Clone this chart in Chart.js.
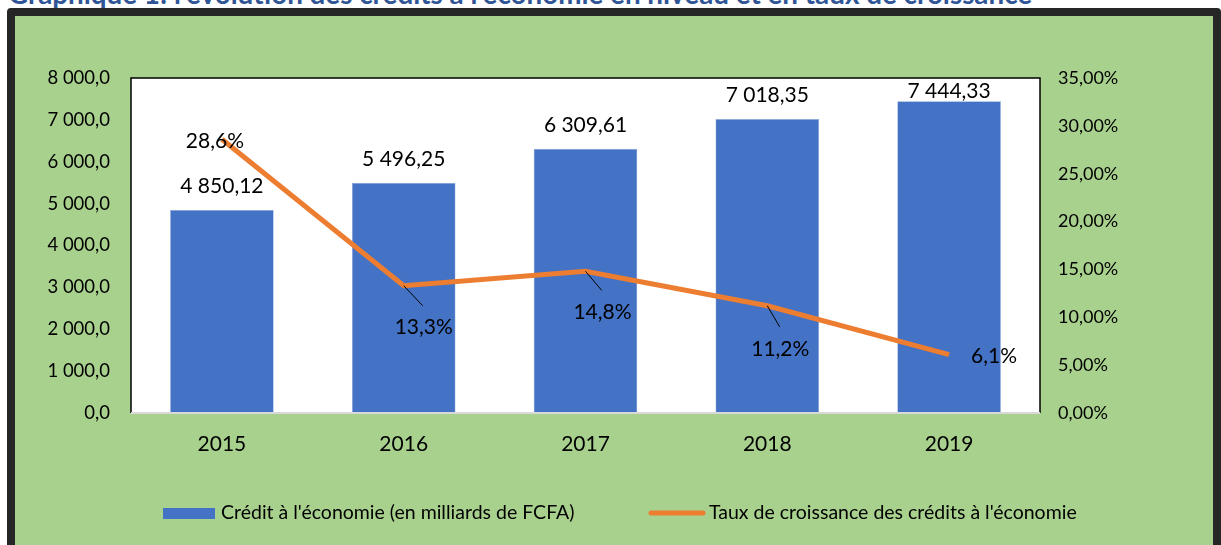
<!DOCTYPE html>
<html>
<head>
<meta charset="utf-8">
<script src="https://cdn.jsdelivr.net/npm/chart.js@4.4.1/dist/chart.umd.min.js"></script>
<style>
  html, body { margin: 0; padding: 0; background: #fff; overflow: hidden; }
  body { width: 1221px; height: 545px; position: relative; font-family: Lato, sans-serif; }
  #title { position: absolute; left: 8px; top: -22px; font: bold 27.8px Lato, sans-serif; line-height: 32px; color: #2f5597; white-space: nowrap; }
  #frame { position: absolute; left: 7px; top: 8px; width: 1198px; height: 560px; border: 8px solid #262626; border-radius: 4px; background: #a9d18e; }
  #wrap { position: absolute; left: 0; top: 0; width: 1198px; height: 529px; }
</style>
</head>
<body>
<div id="title">Graphique 1: l'évolution des crédits à l'économie en niveau et en taux de croissance</div>
<div id="frame"><div id="wrap"><canvas id="chart"></canvas></div></div>
<script>
const years = ['2015', '2016', '2017', '2018', '2019']
const credits = [4850.12, 5496.25, 6309.61, 7018.35, 7444.33]
const growth = [28.6, 13.3, 14.8, 11.2, 6.1]
const creditLabel = "Crédit à l'économie (en milliards de FCFA)"
const growthLabel = "Taux de croissance des crédits à l'économie"

const BLUE = '#4472c4'
const ORANGE = '#ed7d31'
const FONT = 'Lato, sans-serif'

// offsets of the growth labels from their points (dx, dy, leader line?)
const growthLabelPos = [
    { dx: -7, dy: 2, leader: false },
    { dx: 20, dy: 42, leader: true },
    { dx: 17, dy: 41, leader: true },
    { dx: 13, dy: 43, leader: true },
    { dx: 45, dy: 2, leader: false },
]

const fmtCredit = v => {
    const [i, d] = v.toFixed(2).split('.')
    return i.replace(/\B(?=(\d{3})+(?!\d))/g, ' ') + ',' + d
}
const fmtAxis = v => {
    const [i, d] = v.toFixed(1).split('.')
    return i.replace(/\B(?=(\d{3})+(?!\d))/g, ' ') + ',' + d
}

const plotBox = {
    id: 'plotBox',
    beforeDraw(chart) {
        const { ctx, chartArea: a } = chart
        ctx.save()
        ctx.fillStyle = '#fff'
        ctx.fillRect(a.left, a.top, a.right - a.left, a.bottom - a.top)
        ctx.strokeStyle = '#000'
        ctx.lineWidth = 1.5
        ctx.beginPath()
        ctx.moveTo(a.left, a.bottom)
        ctx.lineTo(a.left, a.top)
        ctx.lineTo(a.right, a.top)
        ctx.lineTo(a.right, a.bottom)
        ctx.stroke()
        ctx.restore()
    },
    afterDatasetsDraw(chart) {
        const { ctx, chartArea: a } = chart
        ctx.save()
        ctx.strokeStyle = '#d9d9d9'
        ctx.lineWidth = 2
        ctx.beginPath()
        ctx.moveTo(a.left, a.bottom)
        ctx.lineTo(a.right, a.bottom)
        ctx.stroke()
        ctx.restore()
    }
}

const dataLabels = {
    id: 'dataLabels',
    afterDatasetsDraw(chart) {
        const { ctx, chartArea: a } = chart
        ctx.save()
        ctx.font = '21px ' + FONT
        ctx.fillStyle = '#000'
        ctx.textAlign = 'center'
        ctx.textBaseline = 'middle'
        chart.getDatasetMeta(0).data.forEach((bar, i) => {
            const y = Math.max(bar.y - 24, a.top + 13)
            ctx.fillText(fmtCredit(credits[i]), bar.x, y)
        })
        chart.getDatasetMeta(1).data.forEach((pt, i) => {
            const p = growthLabelPos[i]
            const lx = pt.x + p.dx, ly = pt.y + p.dy
            if (p.leader) {
                ctx.strokeStyle = '#000'
                ctx.lineWidth = 1
                ctx.beginPath()
                ctx.moveTo(pt.x, pt.y)
                ctx.lineTo(pt.x + p.dx * 0.95, pt.y + p.dy - 22)
                ctx.stroke()
            }
            ctx.fillText(growth[i].toFixed(1).replace('.', ',') + '%', lx, ly)
        })
        ctx.restore()
    }
}

const legendBox = {
    id: 'legendBox',
    afterDraw(chart) {
        const { ctx } = chart
        const y = 497
        ctx.save()
        ctx.font = '19.5px ' + FONT
        ctx.textBaseline = 'middle'
        ctx.fillStyle = BLUE
        ctx.fillRect(148, y - 5, 52, 11)
        ctx.fillStyle = '#000'
        ctx.fillText(creditLabel, 206, y)
        ctx.strokeStyle = ORANGE
        ctx.lineWidth = 5
        ctx.lineCap = 'round'
        ctx.beginPath()
        ctx.moveTo(636, y)
        ctx.lineTo(688, y)
        ctx.stroke()
        ctx.fillText(growthLabel, 694, y)
        ctx.restore()
    }
}

new Chart(document.getElementById('chart'), {
    data: {
        labels: years,
        datasets: [
            {
                type: 'bar',
                label: creditLabel,
                data: credits,
                backgroundColor: BLUE,
                borderColor: '#8faadc',
                borderWidth: 0.6,
                categoryPercentage: 1,
                barPercentage: 0.57,
                yAxisID: 'y',
                order: 2,
            },
            {
                type: 'line',
                label: growthLabel,
                data: growth,
                borderColor: ORANGE,
                backgroundColor: ORANGE,
                borderWidth: 5,
                pointRadius: 0,
                tension: 0,
                yAxisID: 'y1',
                order: 1,
            },
        ],
    },
    options: {
        responsive: true,
        maintainAspectRatio: false,
        animation: false,
        layout: { padding: { top: 62, right: 0, left: 0, bottom: 0 } },
        plugins: {
            legend: { display: false },
            tooltip: { enabled: false },
        },
        scales: {
            x: {
                grid: { display: false, drawTicks: false },
                border: { display: false },
                ticks: { color: '#000', font: { family: FONT, size: 21 }, padding: 19 },
                afterFit: s => { s.height = 132 },
            },
            y: {
                position: 'left',
                min: 0,
                max: 8000,
                grid: { display: false, drawTicks: false },
                border: { display: false },
                ticks: {
                    stepSize: 1000,
                    color: '#000',
                    font: { family: FONT, size: 18.5 },
                    padding: 21,
                    callback: v => fmtAxis(v),
                },
                afterFit: s => { s.width = 116 },
            },
            y1: {
                position: 'right',
                min: 0,
                max: 35,
                grid: { display: false, drawTicks: false },
                border: { display: false },
                ticks: {
                    stepSize: 5,
                    color: '#000',
                    font: { family: FONT, size: 18 },
                    padding: 18,
                    callback: v => v.toFixed(2).replace('.', ',') + '%',
                },
                afterFit: s => { s.width = 173 },
            },
        },
    },
    plugins: [plotBox, dataLabels, legendBox],
})
</script>
</body>
</html>
